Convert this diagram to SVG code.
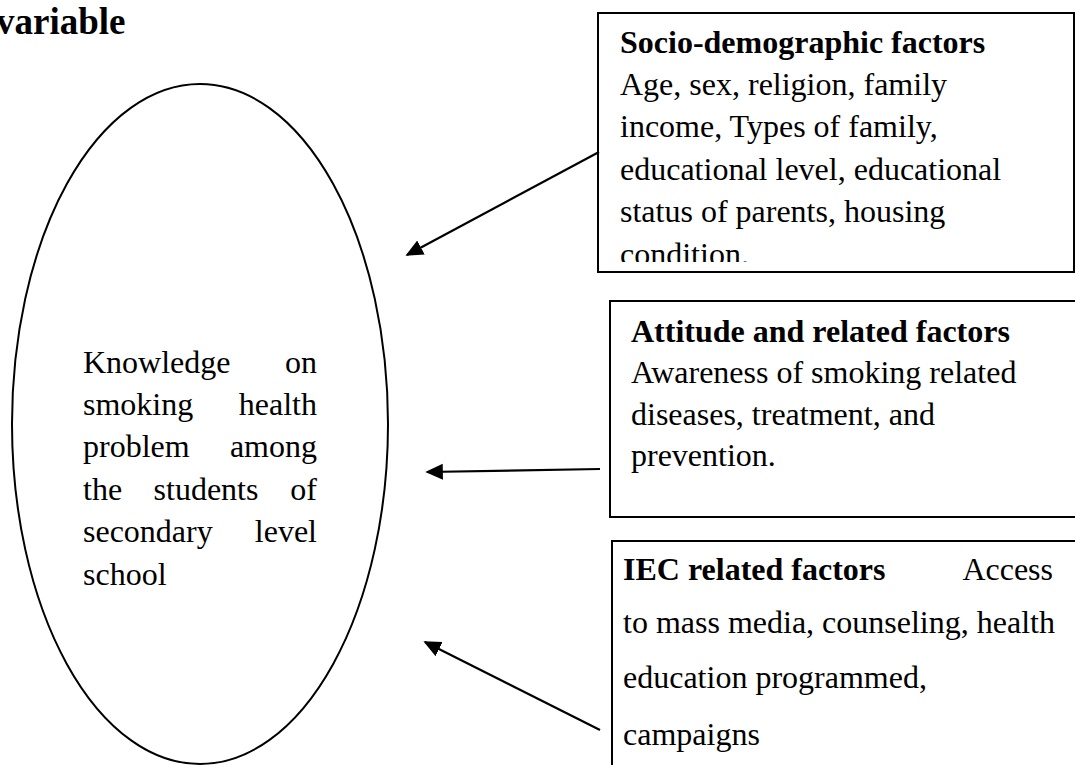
<svg xmlns="http://www.w3.org/2000/svg" width="1075" height="765" viewBox="0 0 1075 765">
<style>
  .t { font-family: "Liberation Serif", "Times New Roman", serif; font-size: 32px; fill: #000; }
  .b { font-weight: bold; }
  .box { fill: #fff; stroke: #000; stroke-width: 2; }
  .ell { fill: #fff; stroke: #000; stroke-width: 2; }
  .conn { stroke: #000; stroke-width: 2.2; fill: none; marker-end: url(#ah); }
</style>
<defs>
  <marker id="ah" viewBox="0 0 10 10" refX="9" refY="5" markerWidth="8" markerHeight="8" markerUnits="strokeWidth" orient="auto">
    <path d="M0,0.5 L10,5 L0,9.5 z" fill="#000"/>
  </marker>
  <clipPath id="clip1"><rect x="600" y="15" width="472" height="247"/></clipPath>
</defs>
<rect width="1075" height="765" fill="#fff"/>

<text class="t b" x="-4" y="34" style="font-size:37px">variable</text>

<g id="node-dependent">
  <ellipse class="ell" cx="200" cy="424" rx="188" ry="340"/>
  <text class="t" x="83" y="373">Knowledge</text>
  <text class="t" x="317" y="373" text-anchor="end">on</text>
  <text class="t" x="83" y="415">smoking</text>
  <text class="t" x="317" y="415" text-anchor="end">health</text>
  <text class="t" x="83" y="457">problem</text>
  <text class="t" x="317" y="457" text-anchor="end">among</text>
  <text class="t" x="83" y="500">the</text>
  <text class="t" x="206" y="500" text-anchor="middle">students</text>
  <text class="t" x="317" y="500" text-anchor="end">of</text>
  <text class="t" x="83" y="542">secondary</text>
  <text class="t" x="317" y="542" text-anchor="end">level</text>
  <text class="t" x="83" y="585">school</text>
</g>

<g id="node-socio">
  <rect class="box" x="598" y="13" width="476" height="259"/>
  <g clip-path="url(#clip1)">
    <text class="t b" x="620" y="53">Socio-demographic factors</text>
    <text class="t" x="620" y="95">Age, sex, religion, family</text>
    <text class="t" x="620" y="137">income, Types of family,</text>
    <text class="t" x="620" y="180">educational level, educational</text>
    <text class="t" x="620" y="222">status of parents, housing</text>
    <text class="t" x="620" y="265">condition.</text>
  </g>
</g>

<g id="node-attitude">
  <path class="box" d="M1076,301 H610 V517 H1076"/>
  <text class="t b" x="631" y="342">Attitude and related factors</text>
  <text class="t" x="631" y="383">Awareness of smoking related</text>
  <text class="t" x="631" y="425">diseases, treatment, and</text>
  <text class="t" x="631" y="466">prevention.</text>
</g>

<g id="node-iec">
  <path class="box" d="M1076,541 H612 V767"/>
  <text class="t b" x="623" y="580">IEC related factors</text>
  <text class="t" x="1053" y="580" text-anchor="end">Access</text>
  <text class="t" x="623" y="633">to mass media, counseling, health</text>
  <text class="t" x="623" y="688">education programmed,</text>
  <text class="t" x="623" y="745">campaigns</text>
</g>

<g id="connectors">
  <line class="conn" x1="599" y1="152" x2="407" y2="255"/>
  <line class="conn" x1="600" y1="469" x2="427" y2="472"/>
  <line class="conn" x1="600" y1="730" x2="425" y2="642"/>
</g>
</svg>
